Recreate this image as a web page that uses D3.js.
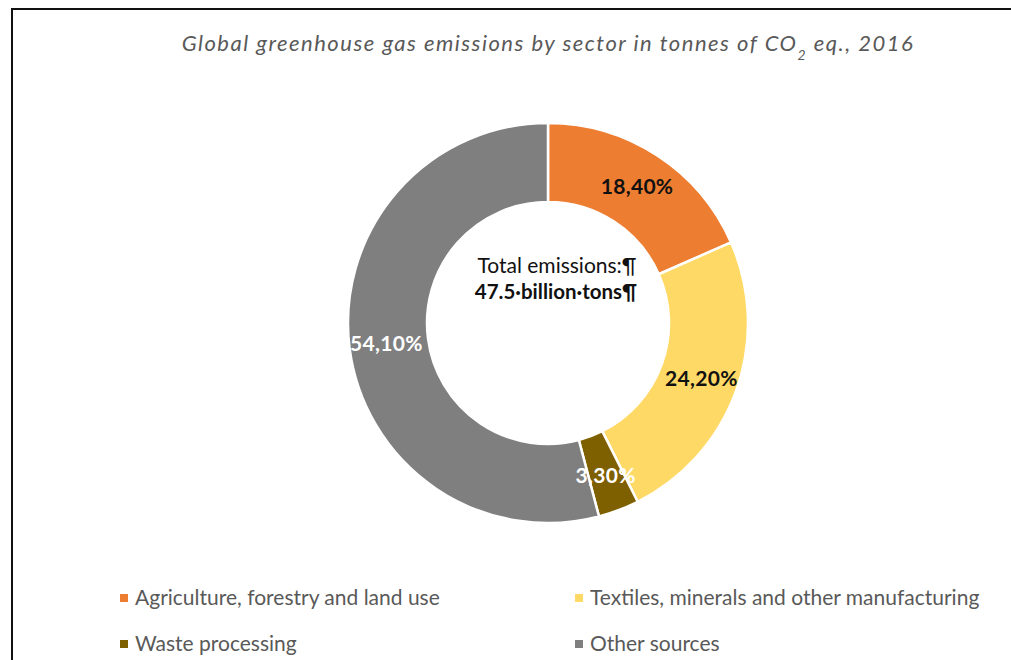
<!DOCTYPE html>
<html>
<head>
<meta charset="utf-8">
<script src="https://cdn.jsdelivr.net/npm/d3@7"></script>
<style>
  body { margin: 0; background: #fff; }
  svg { display: block; }
</style>
</head>
<body>
<div id="chart"></div>
<script>
// data
var sectors = ["Agriculture, forestry and land use", "Textiles, minerals and other manufacturing", "Waste processing", "Other sources"];
var shares = [18.4, 24.2, 3.3, 54.1];
var shareLabels = ["18,40%", "24,20%", "3,30%", "54,10%"];
var sliceColors = ["#ED7D31", "#FFD966", "#7F6000", "#7F7F7F"];
var labelColors = ["#111", "#111", "#fff", "#fff"];

var width = 1011, height = 660;
var cx = 548, cy = 323;
var outerR = 200, innerR = 121;
var font = "Lato, 'Open Sans', sans-serif";

var svg = d3.select("#chart").append("svg")
  .attr("width", width)
  .attr("height", height);

// frame (left + top only, like the cropped screenshot)
svg.append("path")
  .attr("d", "M12,660 L12,9 L1011,9")
  .attr("fill", "none")
  .attr("stroke", "#111")
  .attr("stroke-width", 2);

// title
var title = svg.append("text")
  .attr("x", cx)
  .attr("y", 51)
  .attr("text-anchor", "middle")
  .style("font-family", font)
  .style("font-style", "italic")
  .style("font-size", "22px")
  .style("letter-spacing", "1.5px")
  .style("fill", "#595959");
title.append("tspan").text("Global greenhouse gas emissions by sector in tonnes of CO");
title.append("tspan").attr("baseline-shift", "sub").style("font-size", "14px").text("2");
title.append("tspan").text(" eq., 2016");

var data = sectors.map(function(s, i) {
  return { name: s, value: shares[i], label: shareLabels[i], color: sliceColors[i], labelColor: labelColors[i] };
});

var pie = d3.pie().sort(null).value(function(d) { return d.value; });
var arc = d3.arc().innerRadius(innerR).outerRadius(outerR);
var labelArc = d3.arc().innerRadius(163).outerRadius(163);

var g = svg.append("g").attr("transform", "translate(" + cx + "," + cy + ")");

g.selectAll(".slice")
  .data(pie(data))
  .enter().append("path")
  .attr("class", "slice")
  .attr("d", arc)
  .attr("fill", function(d) { return d.data.color; })
  .attr("stroke", "#fff")
  .attr("stroke-width", 2.5);

g.selectAll(".lbl")
  .data(pie(data))
  .enter().append("text")
  .attr("class", "lbl")
  .attr("transform", function(d) { return "translate(" + labelArc.centroid(d) + ")"; })
  .attr("dy", "0.35em")
  .attr("text-anchor", "middle")
  .style("font-family", font)
  .style("font-weight", "bold")
  .style("font-size", "21px")
  .style("letter-spacing", "0.3px")
  .style("fill", function(d) { return d.data.labelColor; })
  .text(function(d) { return d.data.label; });

// centre text
g.append("text")
  .attr("x", 9)
  .attr("y", -50)
  .attr("text-anchor", "middle")
  .style("font-family", font)
  .style("font-size", "21px")
  .style("fill", "#111")
  .text("Total emissions:¶");
g.append("text")
  .attr("x", 8)
  .attr("y", -24)
  .attr("text-anchor", "middle")
  .style("font-family", font)
  .style("font-weight", "bold")
  .style("font-size", "20.5px")
  .style("fill", "#111")
  .text("47.5·billion·tons¶");

// legend
var legendX = [120, 575], legendY = [598, 644];
var legend = svg.selectAll(".legend")
  .data(data)
  .enter().append("g")
  .attr("class", "legend")
  .attr("transform", function(d, i) { return "translate(" + legendX[i % 2] + "," + legendY[Math.floor(i / 2)] + ")"; });

legend.append("rect")
  .attr("x", 0).attr("y", -4)
  .attr("width", 8).attr("height", 8)
  .attr("fill", function(d) { return d.color; });

legend.append("text")
  .attr("x", 15)
  .attr("dy", "0.35em")
  .style("font-family", font)
  .style("font-size", "21px")
  .style("fill", "#595959")
  .text(function(d) { return d.name; });
</script>
</body>
</html>
